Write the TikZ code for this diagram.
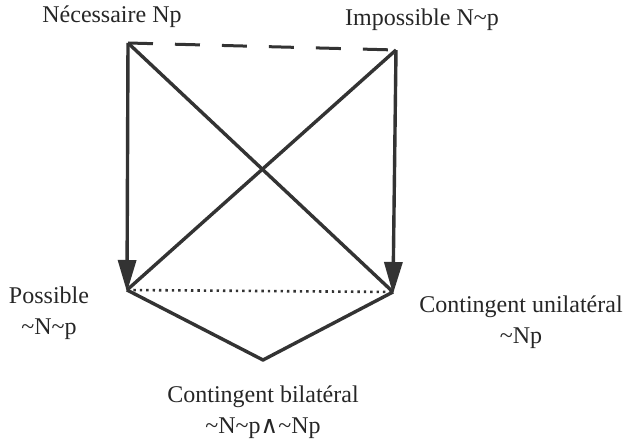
\documentclass[tikz,border=0pt]{standalone}
\usepackage{fontspec}
\setmainfont{Liberation Serif}
\newfontfamily\dvs{DejaVu Serif}
\usetikzlibrary{arrows.meta}
\begin{document}
\begin{tikzpicture}[x=1pt,y=-1pt,
  lbl/.style={font=\fontsize{24}{30}\selectfont, inner sep=0pt, align=center, text=black!85},
  edge/.style={line width=3.4pt, draw=black!80},
  arr/.style={edge, -{Triangle[length=32pt,width=18pt]}, shorten >=-2pt}]
\useasboundingbox (0,0) rectangle (625,441);
\coordinate (A) at (128,43);
\coordinate (B) at (396,50);
\coordinate (C) at (127,290);
\coordinate (D) at (393,292);
\coordinate (E) at (263,360);
\draw[edge, line width=3pt, dash pattern=on 25pt off 22pt] (A) -- (B);
\draw[arr] (A) -- (C);
\draw[arr] (B) -- (D);
\draw[edge] (A) -- (D);
\draw[edge] (B) -- (C);
\draw[line width=2.6pt, draw=black!80, dash pattern=on 2.4pt off 4pt] (C) -- (D);
\draw[edge, line join=round] (C) -- (E) -- (D);
\node[lbl] (nec) at (112,17) {Nécessaire Np};
\node[lbl] (imp) at (422,20) {Impossible N\textasciitilde p};
\node[lbl] (pos) at (49,313) {Possible\\[1pt]\textasciitilde N\textasciitilde p};
\node[lbl] (cu) at (521,322) {Contingent unilatéral\\[1pt]\textasciitilde Np};
\node[lbl] (cb) at (263,412) {Contingent bilatéral\\[1pt]\textasciitilde N\textasciitilde p{\dvs ∧}\textasciitilde Np};
\end{tikzpicture}
\end{document}
